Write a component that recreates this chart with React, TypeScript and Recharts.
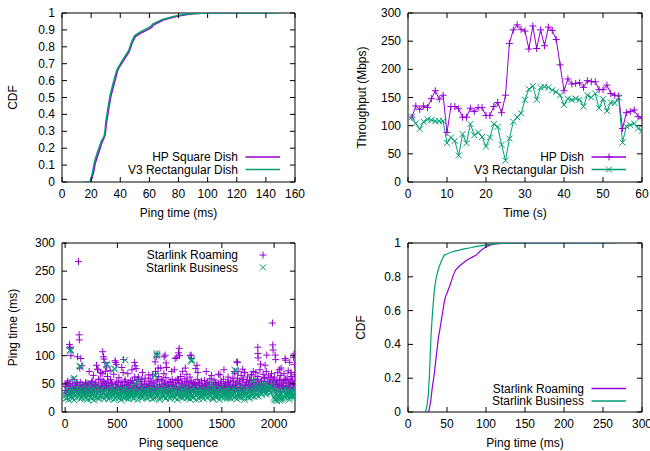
import { LineChart, Line, ScatterChart, Scatter, XAxis, YAxis, ReferenceArea, Legend, Label } from 'recharts';

const PURPLE = '#9400d3';
const GREEN = '#009e73';
const FONT = '"Liberation Sans", Arial, Helvetica, sans-serif';

// ---- top left: ping CDF for the two dishes
const hpSquarePing = [16, 19.5, 20.5, 21.5, 22.8, 25, 27.3, 29.3, 29.8, 30.4, 32, 33.6, 35.5, 37.7, 38.2, 39, 42.3, 45.7, 46.3, 48, 50.3, 53.8, 59.5, 61.5, 63, 69.8, 79, 88, 96, 110, 145];
const hpSquareCdf = [0, 0, 0.02, 0.05, 0.11, 0.17, 0.23, 0.27, 0.29, 0.34, 0.43, 0.51, 0.57, 0.645, 0.66, 0.675, 0.72, 0.765, 0.775, 0.82, 0.86, 0.88, 0.905, 0.915, 0.93, 0.96, 0.98, 0.994, 0.999, 1, 1];
const v3RectPing = [15, 19, 20, 21, 22.3, 24.5, 26.9, 28.9, 29.5, 30, 31.6, 33.2, 35, 37.2, 37.8, 38.7, 41.9, 45.2, 45.9, 47.6, 49.8, 53.2, 58.8, 60.8, 62.5, 69, 78, 87, 95, 112, 148];
const v3RectCdf = [0, 0, 0.02, 0.06, 0.12, 0.18, 0.24, 0.27, 0.3, 0.35, 0.44, 0.52, 0.58, 0.65, 0.665, 0.68, 0.725, 0.77, 0.78, 0.825, 0.865, 0.885, 0.91, 0.92, 0.935, 0.962, 0.982, 0.995, 0.999, 1, 1];
const pingTicks160 = [0, 20, 40, 60, 80, 100, 120, 140, 160];
const cdfTicksTenth = [0, 0.1, 0.2, 0.3, 0.4, 0.5, 0.6, 0.7, 0.8, 0.9, 1];

// ---- top right: throughput per second
const seconds = [1, 2, 3, 4, 5, 6, 7, 8, 9, 10, 11, 12, 13, 14, 15, 16, 17, 18, 19, 20, 21, 22, 23, 24, 25, 26, 27, 28, 29, 30,
  31, 32, 33, 34, 35, 36, 37, 38, 39, 40, 41, 42, 43, 44, 45, 46, 47, 48, 49, 50, 51, 52, 53, 54, 55, 56, 57, 58, 59, 60];
const hpDishMbps = [115, 135, 129, 135, 132, 148, 162, 147, 154, 88, 134, 134, 130, 115, 115, 131, 125, 132, 132, 118,
  118, 134, 141, 123, 154, 246, 270, 279, 271, 268, 236, 277, 237, 270, 242, 275, 269, 253, 208, 162,
  183, 174, 175, 176, 168, 180, 178, 178, 164, 164, 172, 157, 154, 153, 95, 123, 125, 128, 116, 113];
const v3DishMbps = [115, 104, 94, 107, 111, 110, 108, 108, 108, 69, 79, 73, 47, 85, 69, 103, 83, 88, 80, 63,
  79, 103, 98, 66, 38, 77, 107, 115, 122, 146, 165, 170, 146, 168, 169, 168, 163, 160, 154, 137,
  148, 146, 148, 146, 134, 154, 150, 157, 131, 147, 126, 141, 140, 150, 70, 99, 101, 104, 95, 91];
const timeTicks = [0, 10, 20, 30, 40, 50, 60];
const mbpsTicks = [0, 50, 100, 150, 200, 250, 300];

// ---- bottom left: ping per sequence number (band sampled every 10 pings, plus the outliers)
const bandStep = 10;
const roamingBandA = [
  38, 45, 33, 50, 36, 42, 31, 47, 39, 35, 44, 52, 37, 41, 34, 48, 40, 36, 46, 33,
  43, 51, 38, 35, 47, 40, 55, 34, 42, 49, 37, 45, 58, 41, 36, 50, 44, 39, 53, 47,
  42, 55, 38, 46, 34, 50, 41, 37, 48, 43, 35, 52, 39, 45, 33, 47, 40, 54, 36, 44,
  49, 38, 42, 35, 51, 40, 46, 33, 44, 57, 38, 41, 36, 48, 43, 35, 50, 39, 45, 37,
  42, 48, 35, 53, 40, 46, 38, 55, 43, 36, 49, 41, 58, 37, 45, 51, 39, 44, 35, 47,
  40, 52, 36, 45, 48, 38, 56, 42, 35, 50, 44, 39, 53, 37, 46, 41, 55, 36, 48, 43,
  38, 51, 45, 35, 49, 40, 44, 36, 52, 39, 42, 47, 34, 45, 38, 50, 41, 36, 46, 40,
  43, 37, 48, 35, 52, 41, 39, 45, 36, 50, 42, 38, 47, 34, 44, 40, 53, 37, 46, 39,
  45, 55, 38, 48, 42, 60, 36, 51, 44, 39, 57, 41, 47, 35, 53, 43, 49, 38, 56, 42,
  46, 39, 52, 44, 58, 37, 49, 42, 55, 40, 47, 61, 43, 38, 54, 45, 50, 41, 57, 48,
  44, 52, 38, 49, 41, 56, 36, 47, 43, 53, 39, 58, 45, 37, 50, 42, 55, 40, 48, 44,
  51];
const roamingBandB = [
  48, 34, 55, 40, 50, 37, 44, 58, 36, 50, 42, 52, 39, 47, 53, 35, 49, 43, 38, 52,
  47, 41, 50, 36, 49, 53, 45, 38, 48, 52, 43, 75, 40, 58, 47, 68, 55, 44, 72, 50,
  63, 46, 39, 58, 52, 42, 67, 37, 49, 55, 44, 61, 38, 53, 46, 70, 41, 57, 48, 36,
  52, 44, 55, 39, 56, 47, 62, 36, 50, 43, 58, 40, 54, 58, 45, 38, 60, 49, 42, 55,
  47, 59, 40, 66, 51, 44, 72, 38, 57, 63, 46, 78, 42, 55, 68, 49, 61, 45, 53, 40,
  54, 48, 58, 42, 75, 52, 45, 58, 56, 40, 63, 50, 72, 44, 59, 47, 67, 53, 41, 62,
  55, 44, 52, 39, 52, 47, 58, 36, 50, 42, 55, 45, 38, 56, 48, 41, 53, 46, 59, 40,
  52, 38, 57, 44, 49, 36, 51, 42, 47, 54, 39, 58, 45, 50, 37, 53, 43, 48, 55, 41,
  60, 47, 68, 52, 44, 72, 55, 49, 65, 41, 58, 70, 46, 53, 62, 48, 57, 43, 66, 50,
  58, 45, 70, 52, 63, 48, 75, 55, 42, 67, 59, 50, 72, 46, 64, 53, 61, 68, 49, 57,
  62, 48, 55, 70, 45, 58, 65, 50, 42, 68, 56, 47, 60, 73, 52, 44, 63, 57, 49, 66];
const roamingOutliers = [
  [41, 120], [45, 115], [48, 113], [55, 100], [20, 52], [128, 267], [134, 137], [136, 128], [118, 98], [140, 78],
  [150, 95], [160, 82], [230, 72], [270, 65], [300, 83], [310, 76], [360, 107], [367, 98], [372, 94], [380, 88],
  [340, 70], [395, 80], [430, 74], [478, 91], [483, 88], [490, 84], [542, 79], [560, 93], [600, 68], [640, 75],
  [670, 82], [665, 88], [680, 77], [700, 62], [740, 70], [800, 66], [861, 89], [877, 98], [880, 103], [890, 78],
  [947, 98], [957, 101], [966, 87], [970, 79], [1020, 72], [1053, 95], [1069, 97], [1085, 105], [1091, 113], [1095, 100],
  [1150, 78], [1196, 100], [1206, 101], [1210, 95], [1250, 77], [1262, 83], [1270, 70], [1350, 72], [1400, 65], [1467, 67],
  [1483, 66], [1520, 75], [1560, 62], [1620, 72], [1643, 89], [1650, 88], [1700, 76], [1720, 70], [1780, 66], [1800, 72],
  [1844, 115], [1845, 104], [1847, 96], [1870, 85], [1914, 83], [1930, 101], [1984, 158], [1987, 119], [1990, 110], [2010, 101],
  [2015, 93], [2050, 75], [2067, 78], [2105, 95], [2110, 92], [2150, 88], [2185, 97], [2191, 103], [2195, 84], [2160, 70]];
const businessBandA = [
  28, 33, 25, 36, 30, 27, 38, 24, 32, 29, 35, 26, 31, 37, 28, 34, 25, 30, 33, 27,
  32, 26, 35, 29, 38, 24, 31, 34, 27, 36, 30, 25, 33, 28, 37, 31, 26, 35, 29, 32,
  27, 34, 30, 25, 36, 31, 28, 33, 24, 37, 29, 32, 26, 35, 30, 27, 38, 31, 25, 34,
  30, 26, 35, 28, 32, 37, 24, 31, 29, 34, 27, 36, 30, 25, 33, 28, 38, 31, 26, 35,
  29, 33, 27, 36, 30, 25, 34, 31, 38, 28, 32, 26, 35, 29, 37, 30, 24, 33, 28, 36,
  31, 27, 34, 29, 37, 25, 32, 30, 35, 28, 33, 26, 38, 30, 27, 34, 31, 25, 36, 29,
  33, 28, 35, 26, 31, 37, 29, 32, 24, 36, 30, 27, 34, 31, 28, 35, 26, 33, 29, 37,
  30, 25, 34, 28, 36, 31, 27, 33, 29, 38, 26, 32, 30, 35, 28, 24, 34, 31, 27, 36,
  29, 33, 26, 37, 31, 28, 35, 30, 25, 34, 32, 27, 38, 29, 33, 26, 36, 30, 28, 35,
  32, 27, 36, 30, 39, 28, 34, 42, 31, 37, 40, 33, 44, 36, 41, 38, 45, 35, 43, 39,
  26, 22, 30, 24, 35, 21, 28, 32, 25, 38, 27, 33, 29, 36, 31, 26, 34, 30, 37, 32,
  29];
const businessBandB = [
  24, 40, 31, 22, 36, 42, 27, 34, 21, 38, 30, 44, 26, 35, 23, 41, 33, 28, 39, 25,
  37, 22, 43, 30, 26, 39, 34, 21, 40, 28, 45, 32, 24, 38, 27, 42, 35, 23, 36, 29,
  41, 23, 35, 28, 44, 31, 22, 38, 33, 26, 42, 29, 37, 21, 40, 34, 25, 43, 30, 36,
  23, 39, 32, 27, 44, 25, 36, 30, 41, 22, 38, 34, 28, 43, 26, 35, 31, 40, 24, 37,
  42, 28, 36, 23, 40, 33, 26, 45, 30, 38, 22, 35, 41, 27, 34, 44, 25, 39, 31, 43,
  24, 37, 30, 42, 27, 39, 33, 22, 44, 35, 28, 41, 25, 36, 31, 43, 26, 38, 34, 23,
  40, 30, 25, 43, 35, 22, 38, 33, 27, 41, 29, 36, 24, 42, 32, 39, 26, 34, 44, 28,
  36, 23, 41, 30, 26, 39, 34, 22, 43, 28, 37, 31, 25, 40, 33, 27, 42, 35, 24, 38,
  31, 42, 26, 37, 23, 40, 34, 28, 45, 30, 36, 22, 41, 33, 27, 39, 25, 43, 35, 29,
  44, 35, 47, 30, 42, 38, 49, 33, 45, 40, 36, 48, 32, 43, 39, 46, 34, 41, 50, 37,
  23, 35, 20, 29, 40, 24, 33, 21, 37, 27, 42, 25, 31, 38, 22, 36, 28, 41, 26, 34];
const businessOutliers = [
  [48, 110], [50, 108], [52, 111], [86, 60], [80, 58], [143, 80], [144, 82], [175, 45], [240, 48], [399, 85],
  [402, 83], [469, 77], [478, 76], [574, 92], [670, 52], [700, 55], [861, 66], [863, 64], [877, 101], [880, 100],
  [878, 104], [1206, 92], [1212, 93], [1210, 90], [1627, 75], [1630, 73], [1792, 56], [1802, 55], [1400, 50], [1900, 52]];
const seqTicks = [0, 500, 1000, 1500, 2000];
const pingTicks300 = [0, 50, 100, 150, 200, 250, 300];

// ---- bottom right: ping CDF for the two plans
const roamingPing = [24, 26.5, 29, 31, 33.5, 37, 39, 42, 44, 46.5, 48, 50.5, 53, 56, 58, 61, 64, 67.5, 73, 78, 82, 88, 91, 95, 101, 106, 112, 125, 150, 200, 265];
const roamingCdf = [0, 0, 0.06, 0.14, 0.22, 0.36, 0.44, 0.52, 0.58, 0.65, 0.68, 0.71, 0.74, 0.78, 0.81, 0.84, 0.855, 0.87, 0.89, 0.905, 0.915, 0.93, 0.945, 0.962, 0.98, 0.988, 0.995, 0.999, 1, 1, 1];
const businessPing = [20, 22.5, 24.5, 26, 27.5, 28.5, 29.5, 31, 32.5, 34, 36, 38, 40, 42.5, 45, 47, 50, 55, 60, 66, 72, 80, 88, 95, 102, 110, 120, 150, 200, 265];
const businessCdf = [0, 0, 0.04, 0.1, 0.22, 0.34, 0.45, 0.56, 0.65, 0.73, 0.79, 0.83, 0.86, 0.89, 0.915, 0.93, 0.935, 0.945, 0.952, 0.958, 0.965, 0.972, 0.98, 0.985, 0.99, 0.995, 0.999, 1, 1, 1];
const pingTicksBR = [0, 50, 100, 150, 200, 250, 300];
const cdfTicksFifth = [0, 0.2, 0.4, 0.6, 0.8, 1];

const pairs = (xs: number[], ys: number[]) => xs.map((x, i) => ({ x, y: ys[i] }));
const band = (vals: number[], start: number) => vals.map((ms, i) => ({ seq: start + i * bandStep, ms }));
const points = (list: number[][]) => list.map(([seq, ms]) => ({ seq, ms }));

const hpSquareData = pairs(hpSquarePing, hpSquareCdf);
const v3RectData = pairs(v3RectPing, v3RectCdf);
const throughputRows = seconds.map((t, i) => ({ t, hp: hpDishMbps[i], v3: v3DishMbps[i] }));
const roamingScatter = [...band(roamingBandA, 0), ...band(roamingBandB, 5), ...points(roamingOutliers)];
const businessScatter = [...band(businessBandA, 0), ...band(businessBandB, 5), ...points(businessOutliers)];
const roamingCdfData = pairs(roamingPing, roamingCdf);
const businessCdfData = pairs(businessPing, businessCdf);

// ---- layout
type Box = { left: number; right: number; top: number; bottom: number };
const W = 325;
const H_TOP = 225;
const H_BOT = 226;
const AXIS_H = 30;
const AXIS_W = 40;
const TICK = 5;

const box1: Box = { left: 62, right: 295, top: 13, bottom: 182 };
const box2: Box = { left: 83, right: 317, top: 13, bottom: 182 };
const box3: Box = { left: 62, right: 295, top: 18, bottom: 187 };
const box4: Box = { left: 83, right: 317, top: 18, bottom: 187 };

const marginFor = (b: Box, h: number) => ({ top: b.top, right: W - b.right, bottom: h - b.bottom - AXIS_H, left: b.left - AXIS_W });

const xTick = (b: Box) => (props: any) => {
  const x = props.x;
  return (
    <g>
      <line x1={x} x2={x} y1={b.bottom} y2={b.bottom - TICK} stroke="#000" />
      <line x1={x} x2={x} y1={b.top} y2={b.top + TICK} stroke="#000" />
      <text x={x} y={b.bottom + 16} textAnchor="middle" fontSize={12} fontFamily={FONT} fill="#000">{props.payload.value}</text>
    </g>
  );
};

const yTick = (b: Box) => (props: any) => {
  const y = props.y;
  return (
    <g>
      <line x1={b.left} x2={b.left + TICK} y1={y} y2={y} stroke="#000" />
      <line x1={b.right} x2={b.right - TICK} y1={y} y2={y} stroke="#000" />
      <text x={b.left - 7} y={y + 4} textAnchor="end" fontSize={12} fontFamily={FONT} fill="#000">{props.payload.value}</text>
    </g>
  );
};

const Plus = ({ cx, cy, color, r = 3.5 }: any) => (
  <path d={`M${cx - r},${cy}H${cx + r}M${cx},${cy - r}V${cy + r}`} stroke={color} strokeWidth={1} fill="none" />
);
const Cross = ({ cx, cy, color, r = 3 }: any) => (
  <path d={`M${cx - r},${cy - r}L${cx + r},${cy + r}M${cx - r},${cy + r}L${cx + r},${cy - r}`} stroke={color} strokeWidth={1} fill="none" />
);

type KeyRow = { label: string; color: string; line: boolean; mark?: 'plus' | 'cross' };

const KeyOverlay = ({ rows, right, y0, h }: { rows: KeyRow[]; right: number; y0: number; h: number }) => (
  <svg width={W} height={h} style={{ display: 'block', pointerEvents: 'none' }}>
    {rows.map((row, i) => {
      const y = y0 + i * 12.5;
      return (
        <g key={row.label}>
          <text x={right} y={y + 4} textAnchor="end" fontSize={12} fontFamily={FONT} fill="#000">{row.label}</text>
          {row.line && <line x1={right + 7.5} x2={right + 42} y1={y} y2={y} stroke={row.color} strokeWidth={1.5} />}
          {row.mark === 'plus' && <Plus cx={right + 25} cy={y} color={row.color} />}
          {row.mark === 'cross' && <Cross cx={right + 25} cy={y} color={row.color} />}
        </g>
      );
    })}
  </svg>
);

const axisLabel = { fontSize: 12, fontFamily: FONT, fill: '#000' };
const rotated = { ...axisLabel, textAnchor: 'middle' as const };

const Frame = ({ x, y }: { x: number[]; y: number[] }) => (
  <ReferenceArea x1={x[0]} x2={x[1]} y1={y[0]} y2={y[1]} fill="none" stroke="#000" strokeWidth={1} ifOverflow="visible" />
);

export default function App() {
  return (
    <div style={{ position: 'absolute', left: 0, top: 0, width: 650, height: 451, overflow: 'hidden', background: '#fff' }}>
      <div style={{ position: 'absolute', left: 0, top: 0 }}>
        <LineChart width={W} height={H_TOP} margin={marginFor(box1, H_TOP)}>
          <XAxis type="number" dataKey="x" domain={[0, 160]} ticks={pingTicks160} interval={0} height={AXIS_H}
            axisLine={false} tickLine={false} tickSize={0} tick={xTick(box1)} allowDataOverflow>
            <Label value="Ping time (ms)" position="bottom" offset={-4} {...axisLabel} />
          </XAxis>
          <YAxis type="number" domain={[0, 1]} ticks={cdfTicksTenth} interval={0} width={AXIS_W}
            axisLine={false} tickLine={false} tickSize={0} tick={yTick(box1)} allowDataOverflow>
            <Label value="CDF" angle={-90} position="left" offset={9} style={rotated} {...axisLabel} />
          </YAxis>
          <Line data={hpSquareData} dataKey="y" type="linear" stroke={PURPLE} strokeWidth={1.5} dot={false} isAnimationActive={false} />
          <Line data={v3RectData} dataKey="y" type="linear" stroke={GREEN} strokeWidth={1.5} dot={false} isAnimationActive={false} />
          <Frame x={[0, 160]} y={[0, 1]} />
          <Legend layout="vertical" align="center" verticalAlign="middle" wrapperStyle={{ left: 0, top: 0, width: W, height: H_TOP }}
            content={() => (
              <KeyOverlay right={238} y0={157} h={H_TOP} rows={[
                { label: 'HP Square Dish', color: PURPLE, line: true },
                { label: 'V3 Rectangular Dish', color: GREEN, line: true },
              ]} />
            )} />
        </LineChart>
      </div>

      <div style={{ position: 'absolute', left: 325, top: 0 }}>
        <LineChart width={W} height={H_TOP} data={throughputRows} margin={marginFor(box2, H_TOP)}>
          <XAxis type="number" dataKey="t" domain={[0, 60]} ticks={timeTicks} interval={0} height={AXIS_H}
            axisLine={false} tickLine={false} tickSize={0} tick={xTick(box2)} allowDataOverflow>
            <Label value="Time (s)" position="bottom" offset={-4} {...axisLabel} />
          </XAxis>
          <YAxis type="number" domain={[0, 300]} ticks={mbpsTicks} interval={0} width={AXIS_W}
            axisLine={false} tickLine={false} tickSize={0} tick={yTick(box2)} allowDataOverflow>
            <Label value="Throughput (Mbps)" angle={-90} position="left" offset={6} style={rotated} {...axisLabel} />
          </YAxis>
          <Line dataKey="hp" type="linear" stroke={PURPLE} strokeWidth={1} isAnimationActive={false}
            dot={(p: any) => <Plus key={`hp-${p.index}`} cx={p.cx} cy={p.cy} color={PURPLE} />} />
          <Line dataKey="v3" type="linear" stroke={GREEN} strokeWidth={1} isAnimationActive={false}
            dot={(p: any) => <Cross key={`v3-${p.index}`} cx={p.cx} cy={p.cy} color={GREEN} />} />
          <Frame x={[0, 60]} y={[0, 300]} />
          <Legend layout="vertical" align="center" verticalAlign="middle" wrapperStyle={{ left: 0, top: 0, width: W, height: H_TOP }}
            content={() => (
              <KeyOverlay right={259} y0={157} h={H_TOP} rows={[
                { label: 'HP Dish', color: PURPLE, line: true, mark: 'plus' },
                { label: 'V3 Rectangular Dish', color: GREEN, line: true, mark: 'cross' },
              ]} />
            )} />
        </LineChart>
      </div>

      <div style={{ position: 'absolute', left: 0, top: 225 }}>
        <ScatterChart width={W} height={H_BOT} margin={marginFor(box3, H_BOT)}>
          <XAxis type="number" dataKey="seq" domain={[-30, 2200]} ticks={seqTicks} interval={0} height={AXIS_H}
            axisLine={false} tickLine={false} tickSize={0} tick={xTick(box3)} allowDataOverflow>
            <Label value="Ping sequence" position="bottom" offset={-4} {...axisLabel} />
          </XAxis>
          <YAxis type="number" dataKey="ms" domain={[0, 300]} ticks={pingTicks300} interval={0} width={AXIS_W}
            axisLine={false} tickLine={false} tickSize={0} tick={yTick(box3)} allowDataOverflow>
            <Label value="Ping time (ms)" angle={-90} position="left" offset={9} style={rotated} {...axisLabel} />
          </YAxis>
          <Scatter data={roamingScatter} isAnimationActive={false}
            shape={(p: any) => <Plus cx={p.cx} cy={p.cy} color={PURPLE} />} />
          <Scatter data={businessScatter} isAnimationActive={false}
            shape={(p: any) => <Cross cx={p.cx} cy={p.cy} color={GREEN} r={3.3} />} />
          <Frame x={[-30, 2200]} y={[0, 300]} />
          <Legend layout="vertical" align="center" verticalAlign="middle" wrapperStyle={{ left: 0, top: 0, width: W, height: H_BOT }}
            content={() => (
              <KeyOverlay right={238} y0={30} h={H_BOT} rows={[
                { label: 'Starlink Roaming', color: PURPLE, line: false, mark: 'plus' },
                { label: 'Starlink Business', color: GREEN, line: false, mark: 'cross' },
              ]} />
            )} />
        </ScatterChart>
      </div>

      <div style={{ position: 'absolute', left: 325, top: 225 }}>
        <LineChart width={W} height={H_BOT} margin={marginFor(box4, H_BOT)}>
          <XAxis type="number" dataKey="x" domain={[0, 300]} ticks={pingTicksBR} interval={0} height={AXIS_H}
            axisLine={false} tickLine={false} tickSize={0} tick={xTick(box4)} allowDataOverflow>
            <Label value="Ping time (ms)" position="bottom" offset={-4} {...axisLabel} />
          </XAxis>
          <YAxis type="number" domain={[0, 1]} ticks={cdfTicksFifth} interval={0} width={AXIS_W}
            axisLine={false} tickLine={false} tickSize={0} tick={yTick(box4)} allowDataOverflow>
            <Label value="CDF" angle={-90} position="left" offset={7} style={rotated} {...axisLabel} />
          </YAxis>
          <Line data={roamingCdfData} dataKey="y" type="linear" stroke={PURPLE} strokeWidth={1.2} dot={false} isAnimationActive={false} />
          <Line data={businessCdfData} dataKey="y" type="linear" stroke={GREEN} strokeWidth={1.2} dot={false} isAnimationActive={false} />
          <Frame x={[0, 300]} y={[0, 1]} />
          <Legend layout="vertical" align="center" verticalAlign="middle" wrapperStyle={{ left: 0, top: 0, width: W, height: H_BOT }}
            content={() => (
              <KeyOverlay right={259} y0={163.5} h={H_BOT} rows={[
                { label: 'Starlink Roaming', color: PURPLE, line: true },
                { label: 'Starlink Business', color: GREEN, line: true },
              ]} />
            )} />
        </LineChart>
      </div>
    </div>
  );
}
